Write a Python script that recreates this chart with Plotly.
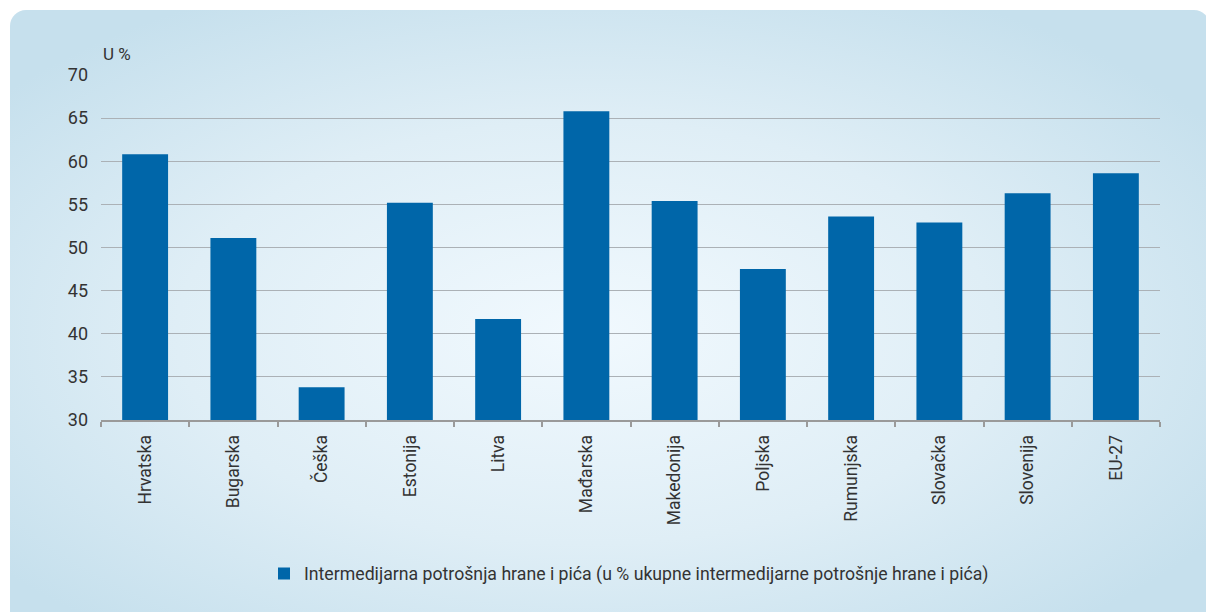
import base64
import plotly.graph_objects as go

countries = ["Hrvatska", "Bugarska", "Češka", "Estonija", "Litva", "Mađarska",
             "Makedonija", "Poljska", "Rumunjska", "Slovačka", "Slovenija", "EU-27"]
values = [60.8, 51.1, 33.8, 55.2, 41.7, 65.8, 55.4, 47.5, 53.6, 52.9, 56.3, 58.6]
series_name = "Intermedijarna potrošnja hrane i pića (u % ukupne intermedijarne potrošnje hrane i pića)"
y_ticks = [30, 35, 40, 45, 50, 55, 60, 65, 70]

OFF = 8  # default page body margin
W, H = 1214 - OFF, 612 - OFF
L, T = 101 - OFF, 75 - OFF
R = W - (1160 - OFF)
B = H - (420 - OFF)
pw, ph = W - L - R, H - T - B

svg = (
    '<svg xmlns="http://www.w3.org/2000/svg" width="1200" height="620" viewBox="0 0 1200 620" preserveAspectRatio="none">'
    '<defs><radialGradient id="g" cx="48%" cy="52%" r="62%" fx="48%" fy="52%">'
    '<stop offset="0" stop-color="#F1F9FE"/><stop offset="0.55" stop-color="#DFEEF6"/>'
    '<stop offset="1" stop-color="#C6E0ED"/></radialGradient></defs>'
    '<rect x="0" y="0" width="1200" height="620" rx="16" ry="16" fill="url(#g)"/></svg>'
)
src = "data:image/svg+xml;base64," + base64.b64encode(svg.encode()).decode()

font = "Roboto, 'Noto Sans', sans-serif"
txt = "#333333"

fig = go.Figure()
fig.add_trace(go.Bar(
    x=countries, y=values, name=series_name,
    marker=dict(color="#0066A9", line=dict(width=0)),
    showlegend=True,
))

px_to_py = lambda py: (T + ph - (py - OFF)) / ph
px_to_px = lambda px: ((px - OFF) - L) / pw

fig.update_layout(
    width=W, height=H,
    margin=dict(l=L, r=R, t=T, b=B),
    paper_bgcolor="white",
    plot_bgcolor="rgba(0,0,0,0)",
    font=dict(family=font, color=txt, size=17),
    bargap=0.48,
    showlegend=True,
    legend=dict(orientation="h", x=px_to_px(629), xanchor="center", y=px_to_py(574),
                yanchor="middle", bgcolor="rgba(0,0,0,0)", itemwidth=30,
                font=dict(family=font, size=17.7, color=txt)),
    images=[dict(source=src, xref="paper", yref="paper",
                 x=px_to_px(10), y=px_to_py(10),
                 sizex=1200 / pw, sizey=620 / ph,
                 xanchor="left", yanchor="top", sizing="stretch", layer="below")],
    annotations=[dict(text="U %", xref="paper", yref="paper", x=0, y=1,
                      xanchor="left", yanchor="bottom", yshift=9, xshift=0, showarrow=False,
                      font=dict(family=font, size=17, color=txt))],
)

fig.update_xaxes(
    tickangle=-90, tickson="boundaries", ticks="outside", ticklen=5,
    tickcolor="#9A9A9A", tickwidth=2,
    showline=True, linecolor="#9A9A9A", linewidth=2,
    showgrid=False, ticklabelstandoff=6,
    tickfont=dict(family=font, size=17.5, color=txt),
)
fig.update_yaxes(
    range=[30, 70], tickvals=y_ticks, showgrid=True, gridcolor="#ABB1B6", gridwidth=1.4,
    zeroline=False, showline=False, ticks="", ticklabelstandoff=12,
    tickfont=dict(family=font, size=18, color=txt),
)

fig.write_html("out.html")
